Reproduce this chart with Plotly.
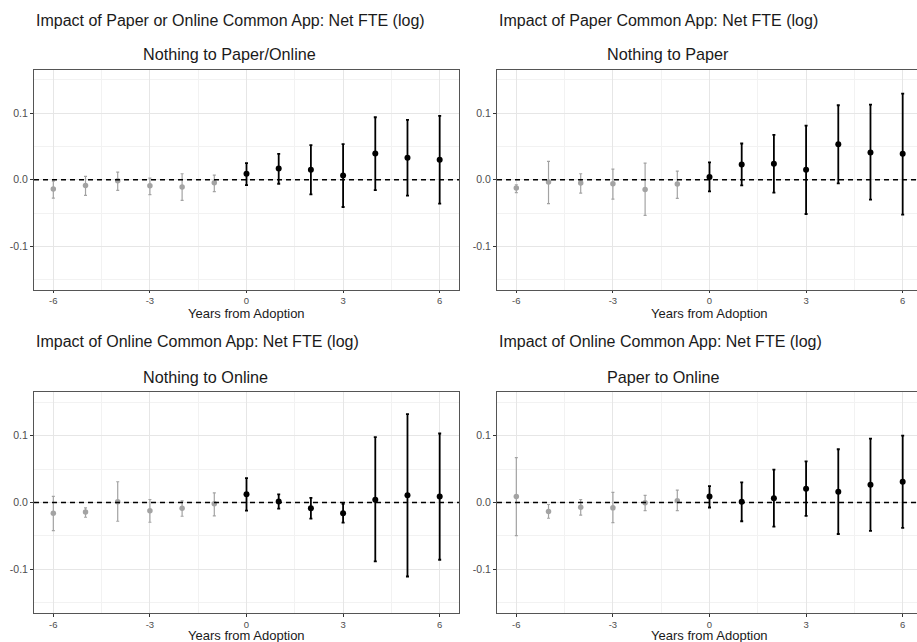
import plotly.graph_objects as go

W, H = 917, 642

years = [-6, -5, -4, -3, -2, -1, 0, 1, 2, 3, 4, 5, 6]

main_titles = [
    "Impact of Paper or Online Common App: Net FTE (log)",
    "Impact of Paper Common App: Net FTE (log)",
    "Impact of Online Common App: Net FTE (log)",
    "Impact of Online Common App: Net FTE (log)",
]
sub_titles = [
    "Nothing to Paper/Online",
    "Nothing to Paper",
    "Nothing to Online",
    "Paper to Online",
]
x_title = "Years from Adoption"

x_tick_vals = [-6, -3, 0, 3, 6]
x_tick_text = ["-6", "-3", "0", "3", "6"]
y_tick_vals = [-0.1, 0.0, 0.1]
y_tick_text = ["-0.1", "0.0", "0.1"]

# Panel 1: Nothing to Paper/Online
p1_est = [-0.014, -0.0085, -0.0015, -0.009, -0.011, -0.0045, 0.009, 0.017, 0.015, 0.0065, 0.0395, 0.033, 0.030]
p1_hi = [-0.002, 0.005, 0.0115, 0.0025, 0.009, 0.007, 0.025, 0.039, 0.052, 0.0535, 0.094, 0.090, 0.096]
p1_lo = [-0.0275, -0.0235, -0.016, -0.0225, -0.031, -0.018, -0.008, -0.006, -0.022, -0.041, -0.0155, -0.024, -0.036]

# Panel 2: Nothing to Paper
p2_est = [-0.0125, -0.0035, -0.005, -0.006, -0.0145, -0.0065, 0.004, 0.023, 0.024, 0.015, 0.0535, 0.041, 0.039]
p2_hi = [-0.0075, 0.0275, 0.009, 0.016, 0.025, 0.013, 0.026, 0.0545, 0.0675, 0.0815, 0.112, 0.113, 0.1295]
p2_lo = [-0.0195, -0.036, -0.020, -0.029, -0.0535, -0.028, -0.0175, -0.0085, -0.0195, -0.0515, -0.0055, -0.030, -0.0525]

# Panel 3: Nothing to Online
p3_est = [-0.016, -0.014, 0.001, -0.0125, -0.0085, -0.002, 0.0125, 0.0015, -0.0085, -0.016, 0.004, 0.011, 0.009]
p3_hi = [0.009, -0.008, 0.031, 0.0045, 0.0025, 0.0145, 0.0365, 0.012, 0.007, -0.002, 0.0975, 0.132, 0.103]
p3_lo = [-0.042, -0.022, -0.028, -0.0295, -0.0205, -0.020, -0.012, -0.009, -0.024, -0.030, -0.088, -0.1105, -0.0855]

# Panel 4: Paper to Online
p4_est = [0.009, -0.0135, -0.007, -0.008, -0.0005, 0.0025, 0.009, 0.001, 0.0065, 0.0205, 0.016, 0.0265, 0.031]
p4_hi = [0.067, -0.003, 0.0045, 0.015, 0.0105, 0.0185, 0.0245, 0.030, 0.049, 0.0615, 0.0795, 0.0955, 0.100]
p4_lo = [-0.0495, -0.0235, -0.019, -0.030, -0.012, -0.012, -0.0075, -0.028, -0.036, -0.020, -0.047, -0.0425, -0.038]

panels = [(p1_est, p1_hi, p1_lo), (p2_est, p2_hi, p2_lo), (p3_est, p3_hi, p3_lo), (p4_est, p4_hi, p4_lo)]

FONT = "Liberation Sans, Arial, Helvetica, sans-serif"
GRAY = "#a3a3a3"
BLACK = "#000000"

# panel geometry in pixels (left, right, top, bottom)
geo = [
    (34, 459, 70, 289.5),
    (497, 917, 70, 289.5),
    (34, 459, 392, 613),
    (497, 917, 392, 613),
]
px_per_unit = 425 / 13.2

fig = go.Figure()
layout = dict(
    width=W, height=H,
    margin=dict(l=0, r=0, t=0, b=0),
    paper_bgcolor="white", plot_bgcolor="white",
    showlegend=False,
    font=dict(family=FONT, color="#000000"),
)
annotations = []
shapes = []

for i, (est, hi, lo) in enumerate(panels):
    n = i + 1
    xa = "x" if n == 1 else f"x{n}"
    ya = "y" if n == 1 else f"y{n}"
    for pre in (True, False):
        idx = [k for k, yr in enumerate(years) if (yr < 0) == pre]
        xs = [years[k] for k in idx]
        ys = [est[k] for k in idx]
        up = [hi[k] - est[k] for k in idx]
        dn = [est[k] - lo[k] for k in idx]
        col = GRAY if pre else BLACK
        fig.add_trace(go.Scatter(
            x=xs, y=ys, mode="markers", xaxis=xa, yaxis=ya,
            marker=dict(color=col, size=6 if not pre else 5.5),
            error_y=dict(type="data", symmetric=False, array=up, arrayminus=dn,
                         color=col, thickness=1.8 if not pre else 1.2, width=1.5),
            cliponaxis=False,
        ))
    l, r, t, b = geo[i]
    x0 = -6.6
    x1 = x0 + (r - l) / px_per_unit
    clipped = r >= W
    xkey = "xaxis" if n == 1 else f"xaxis{n}"
    ykey = "yaxis" if n == 1 else f"yaxis{n}"
    layout[xkey] = dict(
        domain=[l / W, r / W], range=[x0, x1], anchor=ya,
        tickmode="array", tickvals=x_tick_vals, ticktext=x_tick_text,
        ticks="outside", ticklen=2.5, tickcolor="#333333", tickwidth=1,
        tickfont=dict(size=9.5, color="#4d4d4d", family=FONT),
        showgrid=True, gridcolor="#e6e6e6", gridwidth=1,
        minor=dict(tickmode="array", tickvals=[-4.5, -1.5, 1.5, 4.5], showgrid=True,
                   gridcolor="#f2f2f2", gridwidth=0.6, ticks=""),
        zeroline=False, showline=True, linecolor="#555555", linewidth=1, mirror=True,
        fixedrange=True,
    )
    layout[ykey] = dict(
        domain=[1 - b / H, 1 - t / H], range=[-0.165, 0.165], anchor=xa,
        tickmode="array", tickvals=y_tick_vals, ticktext=y_tick_text,
        ticks="outside", ticklen=3, tickcolor="#333333", tickwidth=1,
        tickfont=dict(size=10.5, color="#4d4d4d", family=FONT),
        showgrid=True, gridcolor="#e6e6e6", gridwidth=1,
        minor=dict(tickmode="array", tickvals=[-0.15, -0.05, 0.05, 0.15], showgrid=True,
                   gridcolor="#f2f2f2", gridwidth=0.6, ticks=""),
        zeroline=False, showline=True, linecolor="#555555", linewidth=1,
        mirror=(not clipped), fixedrange=True,
    )
    # dashed zero reference line
    shapes.append(dict(type="line", xref=f"{xa} domain", yref=ya, x0=0, x1=1, y0=0, y1=0,
                       line=dict(color="#000000", width=1.6, dash="5px,4px"), layer="above"))
    # titles
    top_title_y = 20 if i < 2 else 342
    sub_y = 54 if i < 2 else 377
    xtitle_y = 313 if i < 2 else 635.5
    annotations.append(dict(text=main_titles[i], xref="paper", yref="paper",
                            x=l / W, y=1 - top_title_y / H, xanchor="left", yanchor="middle",
                            showarrow=False, font=dict(size=16, color="#1a1a1a", family=FONT)))
    sub_x = 141 if l < 100 else 605
    annotations.append(dict(text=sub_titles[i], xref="paper", yref="paper",
                            x=sub_x / W, y=1 - sub_y / H, xanchor="left", yanchor="middle",
                            showarrow=False, font=dict(size=16.2, color="#1a1a1a", family=FONT)))
    zero_px = l + (0 - x0) * px_per_unit
    annotations.append(dict(text=x_title, xref="paper", yref="paper",
                            x=zero_px / W, y=1 - xtitle_y / H, xanchor="center", yanchor="middle",
                            showarrow=False, font=dict(size=13, color="#1a1a1a", family=FONT)))

layout["annotations"] = annotations
layout["shapes"] = shapes
fig.update_layout(**layout)
fig.write_html(
    "out.html",
    config={"displayModeBar": False},
    post_script="document.body.style.margin='0px';document.body.style.overflow='hidden';",
)
